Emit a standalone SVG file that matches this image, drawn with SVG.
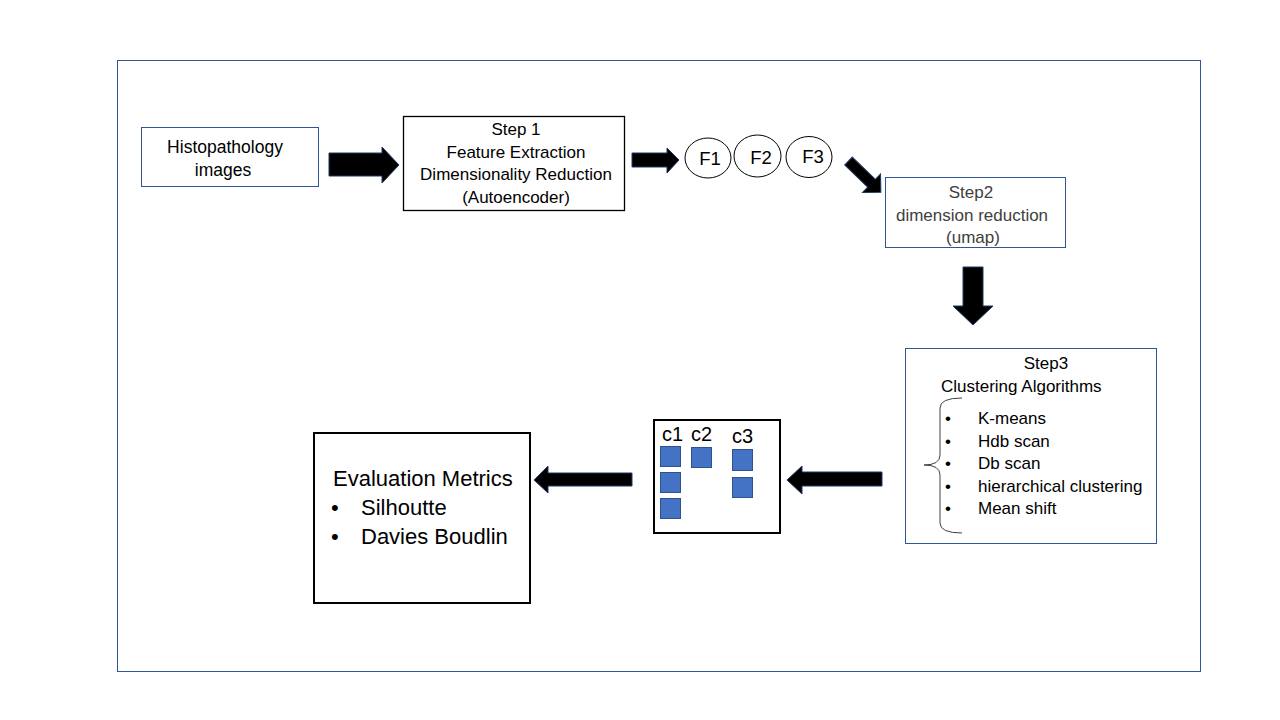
<svg xmlns="http://www.w3.org/2000/svg" width="1280" height="720" viewBox="0 0 1280 720">
<style>
.t{font-family:"Liberation Sans",Arial,sans-serif;fill:#000}
.m{text-anchor:middle}
.g{fill:#404040}
.bl{fill:none;stroke:#2F5597;stroke-width:1}
.arr{fill:#000;stroke:#1F3864;stroke-width:1}
.sq{fill:#4472C4;stroke:#2F528F;stroke-width:1}
.ell{fill:#fff;stroke:#000;stroke-width:1}
</style>
<rect width="1280" height="720" fill="#fff"/>
<rect x="117.5" y="60.5" width="1083" height="611" class="bl"/>

<g id="connectors">
<polygon class="arr" points="329,153 382,153 382,147 399,165 382,183 382,176 329,176"/>
<polygon class="arr" points="632,153 667,153 667,148 679,160 667,173 667,167 632,167"/>
<polygon class="arr" transform="translate(848.5,161) rotate(44)" points="0,-5.5 32,-5.5 32,-13 45,0 32,13 32,5.5 0,5.5"/>
<polygon class="arr" points="963,267 983,267 983,306 993,306 973,325 953,306 963,306"/>
<polygon class="arr" points="882,472 802,472 802,466 787,480 802,494 802,486 882,486"/>
<polygon class="arr" points="632,473 548,473 548,466 534,480 548,493 548,486 632,486"/>
</g>

<g id="histopathology">
<rect x="141.5" y="127.5" width="177" height="59" class="bl"/>
<text class="t m" x="225" y="153" font-size="17.5">Histopathology</text>
<text class="t m" x="223" y="176" font-size="17.5">images</text>
</g>

<g id="step1">
<rect x="403.5" y="116.5" width="221" height="94" fill="none" stroke="#000" stroke-width="1.3"/>
<text class="t m" x="516" y="135" font-size="17">Step 1</text>
<text class="t m" x="516" y="158" font-size="17">Feature Extraction</text>
<text class="t m" x="516" y="180" font-size="17">Dimensionality Reduction</text>
<text class="t m" x="516" y="203" font-size="17">(Autoencoder)</text>
</g>

<g id="f1">
<ellipse cx="708" cy="158" rx="23" ry="20" class="ell"/>
<text class="t m" x="710" y="165" font-size="18.5">F1</text>
</g>
<g id="f2">
<ellipse cx="757.5" cy="156" rx="23.5" ry="21" class="ell"/>
<text class="t m" x="761" y="164" font-size="18.5">F2</text>
</g>
<g id="f3">
<ellipse cx="809" cy="157" rx="23" ry="20.5" class="ell"/>
<text class="t m" x="813" y="163" font-size="18.5">F3</text>
</g>

<g id="step2">
<rect x="885.5" y="177.5" width="180" height="70" class="bl"/>
<text class="t m g" x="971" y="198" font-size="17">Step2</text>
<text class="t m g" x="972" y="221" font-size="17">dimension reduction</text>
<text class="t m g" x="973" y="243" font-size="17">(umap)</text>
</g>

<g id="step3">
<rect x="905.5" y="348.5" width="251" height="195" class="bl"/>
<text class="t m" x="1046" y="369" font-size="17">Step3</text>
<text class="t" x="941" y="392" font-size="17">Clustering Algorithms</text>
<path d="M962,398 Q940,398 940,408 L940,455 Q940,465 924,465 Q940,465 940,475 L940,523 Q940,533 962,533" fill="none" stroke="#404040" stroke-width="1"/>
<g class="t" font-size="17">
<text x="945" y="424">•</text><text x="978" y="424">K-means</text>
<text x="945" y="447">•</text><text x="978" y="447">Hdb scan</text>
<text x="945" y="469">•</text><text x="978" y="469">Db scan</text>
<text x="945" y="492">•</text><text x="978" y="492">hierarchical clustering</text>
<text x="945" y="514">•</text><text x="978" y="514">Mean shift</text>
</g>
</g>

<g id="clusters">
<rect x="654" y="420" width="126" height="113" fill="#fff" stroke="#000" stroke-width="2"/>
<text class="t" x="662" y="441" font-size="20">c1</text>
<text class="t" x="691" y="441" font-size="20">c2</text>
<text class="t" x="732" y="443" font-size="20">c3</text>
<rect x="660.5" y="446.5" width="20" height="20" class="sq"/>
<rect x="660.5" y="472.5" width="20" height="20" class="sq"/>
<rect x="660.5" y="498.5" width="20" height="20" class="sq"/>
<rect x="691.5" y="447.5" width="20" height="20" class="sq"/>
<rect x="732.5" y="449.5" width="20" height="21" class="sq"/>
<rect x="732.5" y="477.5" width="20" height="20" class="sq"/>
</g>

<g id="evaluation">
<rect x="314" y="433" width="216" height="170" fill="#fff" stroke="#000" stroke-width="2"/>
<text class="t" x="333" y="486" font-size="22">Evaluation Metrics</text>
<text class="t" x="331" y="515" font-size="22">•</text>
<text class="t" x="361" y="515" font-size="22">Silhoutte</text>
<text class="t" x="331" y="544" font-size="22">•</text>
<text class="t" x="361" y="544" font-size="22">Davies Boudlin</text>
</g>
</svg>
